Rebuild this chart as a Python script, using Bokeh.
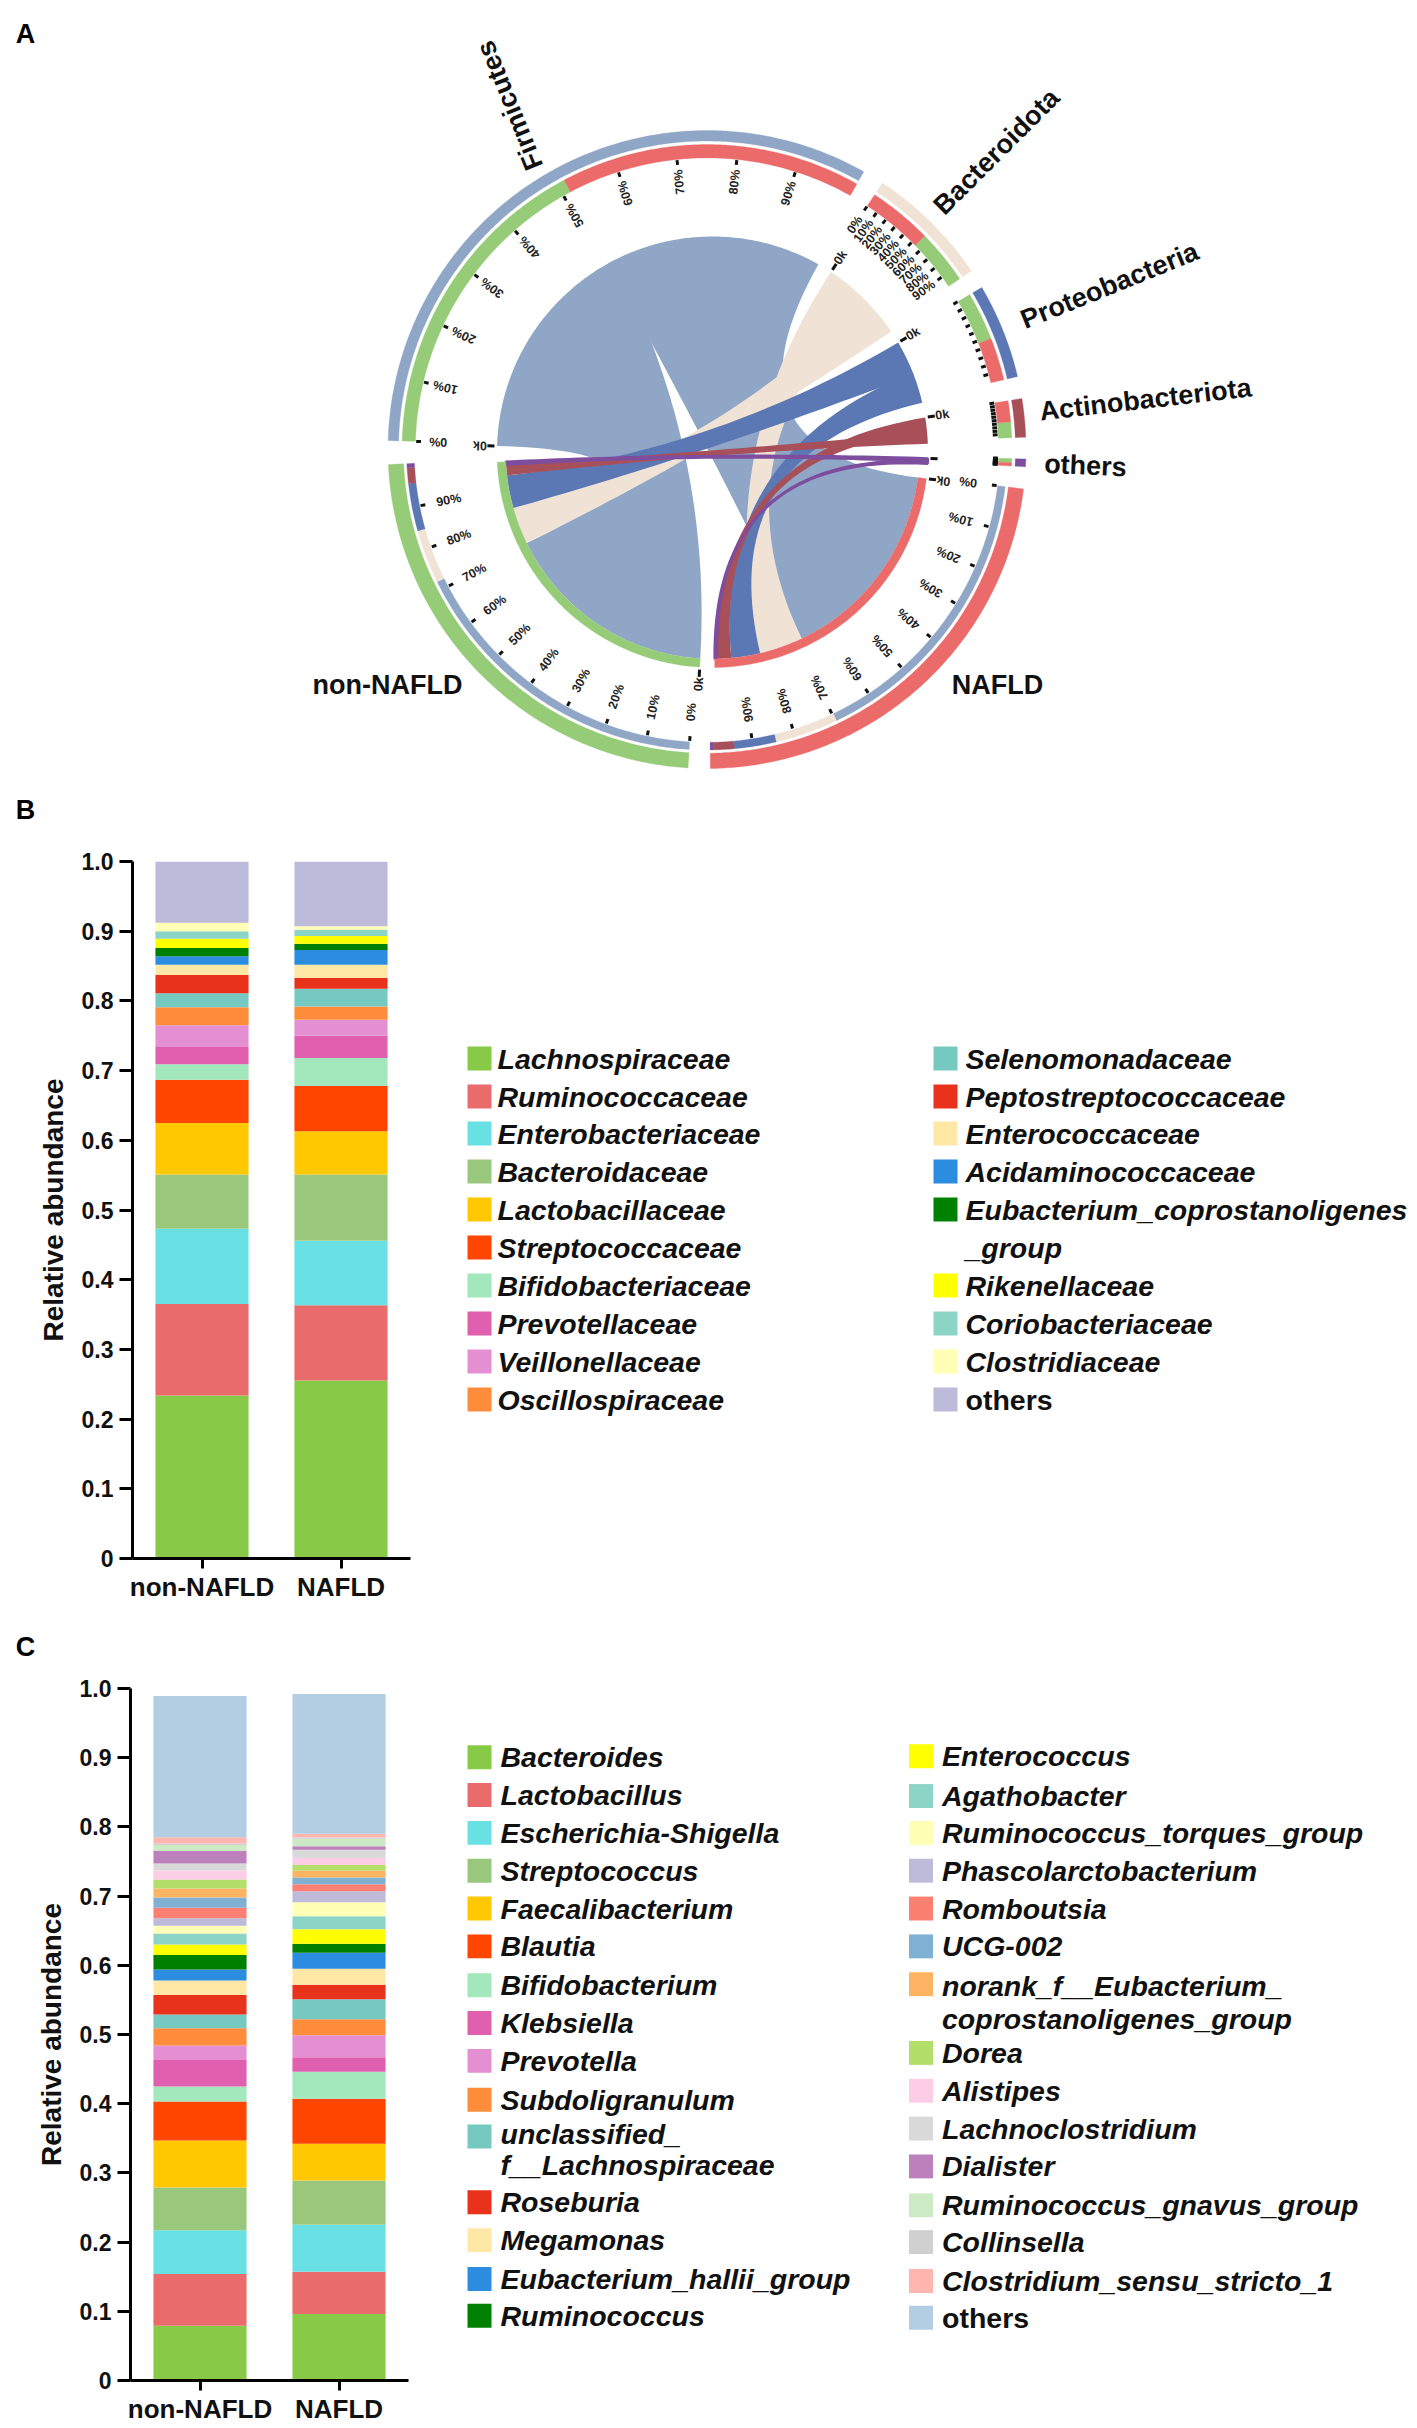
import math
from bokeh.plotting import figure
from bokeh.layouts import column, row
from bokeh.models import Range1d, FactorRange, FixedTicker, ColumnDataSource
from bokeh.core.properties import value
from bokeh.embed import file_html
from bokeh.resources import INLINE

FONT = "Liberation Sans"
PAGE_W = 1410

# ---------- panel A data ----------
phyla = ["Firmicutes", "Bacteroidota", "Proteobacteria", "Actinobacteriota", "others"]
groups = ["non-NAFLD", "NAFLD"]
flow_non_nafld = [60.4, 10.4, 9.2, 3.0, 0.8]
flow_nafld = [57.3, 12.2, 8.1, 4.0, 0.6]
phylum_colors = ["#8FA6C7", "#F0E3D6", "#5B78B4", "#A85059", "#7E4D9E"]
group_colors = ["#96CB78", "#EB6A6A"]
first_group = [0, 1, 0, 1, 0]
sector_gaps = [3.9, 3.5, 4.0, 3.9, 4.0, 4.0, 4.3]
percent_labels = ["0%", "10%", "20%", "30%", "40%", "50%", "60%", "70%", "80%", "90%"]

# ---------- panel B data ----------
family_names = ["Lachnospiraceae", "Ruminococcaceae", "Enterobacteriaceae", "Bacteroidaceae",
                "Lactobacillaceae", "Streptococcaceae", "Bifidobacteriaceae", "Prevotellaceae",
                "Veillonellaceae", "Oscillospiraceae", "Selenomonadaceae", "Peptostreptococcaceae",
                "Enterococcaceae", "Acidaminococcaceae", "Eubacterium_coprostanoligenes\n_group",
                "Rikenellaceae", "Coriobacteriaceae", "Clostridiaceae", "others"]
family_non = [.234, .131, .108, .078, .074, .062, .022, .025, .031, .026, .020, .026, .015, .012,
              .012, .013, .011, .012, .088]
family_naf = [.2555, .108, .0925, .095, .062, .065, .040, .032, .023, .019, .0255, .0155, .019, .021,
              .009, .011, .009, .005, .093]
family_colors = ["#88C947", "#E96B6B", "#68E0E4", "#99C87C", "#FFC800", "#FF4500", "#A2E8BC", "#E05FAE",
                 "#E58FD3", "#FF8C3A", "#76C9C0", "#E8321C", "#FFE8A6", "#2C8DE0", "#008000", "#FFFF00",
                 "#8CD4C5", "#FFFFB5", "#BEBADA"]

# ---------- panel C data ----------
genus_names = ["Bacteroides", "Lactobacillus", "Escherichia-Shigella", "Streptococcus", "Faecalibacterium",
               "Blautia", "Bifidobacterium", "Klebsiella", "Prevotella", "Subdoligranulum",
               "unclassified_\nf__Lachnospiraceae", "Roseburia", "Megamonas", "Eubacterium_hallii_group",
               "Ruminococcus", "Enterococcus", "Agathobacter", "Ruminococcus_torques_group",
               "Phascolarctobacterium", "Romboutsia", "UCG-002", "norank_f__Eubacterium_\ncoprostanoligenes_group",
               "Dorea", "Alistipes", "Lachnoclostridium", "Dialister", "Ruminococcus_gnavus_group",
               "Collinsella", "Clostridium_sensu_stricto_1", "others"]
genus_non = [.079, .075, .063, .062, .068, .056, .022, .038, .021, .025, .020, .028, .021, .016, .021,
             .015, .016, .011, .011, .015, .015, .013, .013, .013, .010, .018, .009, .002, .009, .204]
genus_naf = [.096, .061, .068, .064, .053, .065, .039, .021, .032, .023, .029, .021, .023, .023, .013,
             .021, .019, .020, .016, .010, .010, .010, .008, .010, .012, .005, .011, .002, .005, .202]
genus_colors = ["#88C947", "#E96B6B", "#68E0E4", "#99C87C", "#FFC800", "#FF4500", "#A2E8BC", "#E05FAE",
                "#E58FD3", "#FF8C3A", "#76C9C0", "#E8321C", "#FFE8A6", "#2C8DE0", "#008000", "#FFFF00",
                "#8CD4C5", "#FFFFB5", "#BEBADA", "#FB8072", "#80B1D3", "#FDB462", "#B3DE69", "#FCCDE5",
                "#D9D9D9", "#BC80BD", "#CCEBC5", "#D0D0D0", "#FFB6AE", "#B3CDE3"]
y_ticks = [0, .1, .2, .3, .4, .5, .6, .7, .8, .9, 1]
y_tick_labels = ["0", "0.1", "0.2", "0.3", "0.4", "0.5", "0.6", "0.7", "0.8", "0.9", "1.0"]


def blank(width, top, bottom, x0=0, x1=None):
    p = figure(width=width, height=bottom - top, output_backend="svg", toolbar_location=None,
               x_range=Range1d(x0, x1 if x1 is not None else x0 + width), y_range=Range1d(bottom, top), min_border=0)
    p.axis.visible = False
    p.grid.visible = False
    p.outline_line_color = None
    return p


def letter_strip(letter, top, bottom, y):
    p = blank(PAGE_W, top, bottom)
    p.text([25], [y], text=[letter], text_font=value(FONT), text_font_style="bold", text_font_size="27px",
           text_color="#000000", text_align="center", text_baseline="middle")
    return p


# ---------- panel A drawing ----------
A_BOTTOM = 780
pa = blank(PAGE_W, 0, A_BOTTOM)

OUT = (706.5, 449.0, 319.0)
INN = (712.0, 451.5, 215.5)


def pt(a, r, e):
    t = math.radians(a)
    return e[0] + e[2] * r * math.cos(t), e[1] - e[2] * r * math.sin(t)


def arc(a0, a1, r, e):
    n = max(2, int(abs(a1 - a0) * 2) + 2)
    return [pt(a0 + (a1 - a0) * i / (n - 1), r, e) for i in range(n)]


def band(a0, a1, r0, r1, e, color):
    pts = arc(a0, a1, r0, e) + arc(a1, a0, r1, e)
    pa.patch([q[0] for q in pts], [q[1] for q in pts], fill_color=color, line_color=color, line_width=0.3)


def bez(p, q, e):
    cx, cy = e[0], e[1]
    out = []
    for i in range(41):
        t = i / 40
        out.append(((1 - t) ** 2 * p[0] + 2 * t * (1 - t) * cx + t ** 2 * q[0],
                    (1 - t) ** 2 * p[1] + 2 * t * (1 - t) * cy + t ** 2 * q[1]))
    return out


flows = [flow_non_nafld, flow_nafld]
phylum_sizes = [flows[0][i] + flows[1][i] for i in range(5)]
group_sizes = [sum(flows[0]), sum(flows[1])]
k = (360 - sum(sector_gaps)) / (sum(phylum_sizes) + sum(group_sizes))

# sectors run clockwise: phyla, NAFLD, non-NAFLD
seq = [("p", i) for i in range(5)] + [("g", 1), ("g", 0)]
ang = 178.4
spans = {}
for n, s in enumerate(seq):
    size = phylum_sizes[s[1]] if s[0] == "p" else group_sizes[s[1]]
    spans[s] = (ang, ang - size * k)
    ang = ang - size * k - sector_gaps[n]

links = {}
for i in range(5):
    a = spans[("p", i)][0]
    for g in [first_group[i], 1 - first_group[i]]:
        links[(i, g)] = [a, a - flows[g][i] * k]
        a -= flows[g][i] * k
for g in range(2):
    b = spans[("g", g)][0]
    for i in range(5):
        links[(i, g)] += [b, b - flows[g][i] * k]
        b -= flows[g][i] * k

# ribbons: the two ribbons of a phylum overlap slightly where they leave their sector
CH_GROUP = 0.96
for i in range(5):
    ov = min(1.0, 0.017 * phylum_sizes[i] * k)
    for pos, g in enumerate([first_group[i], 1 - first_group[i]]):
        a0, a1, b0, b1 = links[(i, g)]
        a0 = a0 + ov if pos == 1 else a0
        a1 = a1 - ov if pos == 0 else a1
        pts = (arc(a0, a1, 1.0, INN) + bez(pt(a1, 1.0, INN), pt(b0, CH_GROUP, INN), INN) +
               arc(b0, b1, CH_GROUP, INN) + bez(pt(b1, CH_GROUP, INN), pt(a0, 1.0, INN), INN))
        thin = i == 4
        pa.patch([q[0] for q in pts], [q[1] for q in pts], fill_color=phylum_colors[i],
                 line_color=phylum_colors[i] if thin else None, line_width=2.5 if thin else 1)

# rings
for i in range(5):
    a0, a1 = spans[("p", i)]
    band(a0, a1, 1.0, 0.967, OUT, phylum_colors[i])
    for g in range(2):
        band(links[(i, g)][0], links[(i, g)][1], 0.956, 0.914, OUT, group_colors[g])
for g in range(2):
    a0, a1 = spans[("g", g)]
    band(a0, a1, 1.0, 0.952, OUT, group_colors[g])
    band(a0, a1, 1.0, CH_GROUP, INN, group_colors[g])
    for i in range(5):
        band(links[(i, g)][2], links[(i, g)][3], 0.942, 0.918, OUT, phylum_colors[i])

# ticks and scale labels
tick_x0, tick_x1, tick_y0, tick_y1 = [], [], [], []
lab_x, lab_y, lab_t, lab_ang = [], [], [], []


def facing(a):
    norm = (a + 180) % 360 - 180
    return math.radians(norm if norm >= 0 else norm + 180)


for s in seq:
    a0, a1 = spans[s]
    is_p = s[0] == "p"
    r_t = (0.912, 0.897) if is_p else (0.915, 0.900)
    r_l = 0.843 if is_p else 0.825
    labelled = (not is_p) or s[1] in (0, 1)
    for n in range(10):
        a = a0 + (a1 - a0) * n / 10
        p0, p1 = pt(a, r_t[0], OUT), pt(a, r_t[1], OUT)
        tick_x0.append(p0[0]); tick_y0.append(p0[1]); tick_x1.append(p1[0]); tick_y1.append(p1[1])
        if labelled:
            q = pt(a, r_l, OUT)
            lab_x.append(q[0]); lab_y.append(q[1]); lab_t.append(percent_labels[n]); lab_ang.append(facing(a))
    p0, p1 = pt(a0, 1.012, INN), pt(a0, 1.045, INN)
    tick_x0.append(p0[0]); tick_y0.append(p0[1]); tick_x1.append(p1[0]); tick_y1.append(p1[1])
    if s != ("p", 4):
        q = pt(a0, 1.08, INN)
        lab_x.append(q[0]); lab_y.append(q[1]); lab_t.append("0k"); lab_ang.append(facing(a0))

pa.segment(tick_x0, tick_y0, tick_x1, tick_y1, line_color="#111111", line_width=3)
pa.text(lab_x, lab_y, text=lab_t, angle=lab_ang, text_font=value(FONT), text_font_style="bold",
        text_font_size="12.5px", text_color="#222222", text_align="center", text_baseline="middle")

name_src = ColumnDataSource(dict(
    x=[509, 996, 1109, 1145, 1085, 997, 387],
    y=[105, 151, 285, 399, 465, 684, 684],
    t=phyla + ["NAFLD", "non-NAFLD"],
    a=[math.radians(v) for v in (112, 45, 22, 6.5, -2.5, 0, 0)]))
pa.text("x", "y", text="t", angle="a", source=name_src, text_font=value(FONT), text_font_style="bold",
        text_font_size="27px", text_color="#111111", text_align="center", text_baseline="middle")
pa.text([25], [33], text=["A"], text_font=value(FONT), text_font_style="bold", text_font_size="27px",
        text_color="#000000", text_align="center", text_baseline="middle")


# ---------- bar panels ----------
BAR_W = 440


def bar_panel(top, bottom, y1, y0, names, non, naf, colors, frame_left):
    src = dict(cat=groups)
    keys = []
    for i, nm in enumerate(names):
        key = "s%d" % i
        keys.append(key)
        src[key] = [non[i], naf[i]]
    p = figure(width=BAR_W, height=bottom - top, output_backend="svg", toolbar_location=None,
               x_range=FactorRange(factors=groups, range_padding=0, factor_padding=0),
               y_range=Range1d(0, 1), min_border_left=frame_left, min_border_right=BAR_W - frame_left - 278,
               min_border_top=y1 - top, min_border_bottom=bottom - y0)
    p.vbar_stack(keys, x="cat", width=0.67, color=colors, source=src, line_width=0)
    p.grid.visible = False
    p.outline_line_color = None
    p.yaxis.ticker = FixedTicker(ticks=y_ticks)
    p.yaxis.major_label_overrides = dict(zip(y_ticks, y_tick_labels))
    p.yaxis.minor_tick_line_color = None
    for ax in (p.xaxis[0], p.yaxis[0]):
        ax.axis_line_width = 3
        ax.axis_line_color = "#000000"
        ax.major_tick_line_width = 3
        ax.major_tick_line_color = "#000000"
        ax.major_tick_in = 0
        ax.major_label_text_font = FONT
        ax.major_label_text_font_style = "bold"
        ax.major_label_text_color = "#111111"
    p.yaxis.major_tick_out = 13
    p.xaxis.major_tick_out = 10
    p.yaxis.major_label_standoff = 6
    p.xaxis.major_label_standoff = 3
    p.yaxis.major_label_text_font_size = "23px"
    p.xaxis.major_label_text_font_size = "26px"
    p.yaxis.axis_label = "Relative abundance"
    p.yaxis.axis_label_text_font = FONT
    p.yaxis.axis_label_text_font_size = "28px"
    p.yaxis.axis_label_text_font_style = "bold"
    p.yaxis.axis_label_text_color = "#111111"
    p.yaxis.axis_label_standoff = 10
    return p


def legend_panel(top, bottom, y1, y0, rows, sx, tx, colors, names):
    # the row lines up the frames, so this frame spans the same pixel rows as the bars
    p = figure(width=PAGE_W - BAR_W, height=bottom - top, output_backend="svg", toolbar_location=None,
               x_range=Range1d(BAR_W, PAGE_W), y_range=Range1d(y0, y1), min_border=0,
               min_border_top=y1 - top, min_border_bottom=bottom - y0)
    p.axis.visible = False
    p.grid.visible = False
    p.outline_line_color = None
    for i, cname in enumerate(names):
        c, y, ly = rows[i]
        p.quad(left=[sx[c]], right=[sx[c] + 24], top=[y - 12], bottom=[y + 12], fill_color=colors[i], line_color=None)
        style = "bold" if cname == "others" else "bold italic"
        parts = cname.split("\n")
        p.text([tx[c]] * len(parts), ly, text=parts, text_font=value(FONT), text_font_style=style,
               text_font_size="28.5px", text_color="#111111", text_align="left", text_baseline="middle")
    return p


b_y = [1058, 1096, 1133, 1171, 1209, 1247, 1285, 1323, 1361, 1399]
b_rows = [(0, y, [y]) for y in b_y]
for r in [0, 1, 2, 3, 4, 6, 7, 8, 9]:
    b_rows.append((1, b_y[r], [b_y[4], b_y[5]] if r == 4 else [b_y[r]]))

c_rows = [(0, y, [y]) for y in (1757, 1795, 1833, 1871, 1909, 1947, 1986, 2024, 2062, 2101)]
c_rows.append((0, 2138, [2135, 2167]))
c_rows += [(0, y, [y]) for y in (2204, 2242, 2281, 2318)]
c_rows += [(1, y, [y]) for y in (1756, 1796, 1833, 1871, 1909, 1947)]
c_rows.append((1, 1985, [1987, 2020]))
c_rows += [(1, y, [y]) for y in (2054, 2092, 2130, 2168, 2207, 2244, 2283, 2320)]

B_STRIP, B_TOP, B_BOTTOM = A_BOTTOM, 830, 1620
C_STRIP, C_TOP, C_BOTTOM = 1620, 1662, 2426

sb = letter_strip("B", B_STRIP, B_TOP, 809)
pb = bar_panel(B_TOP, B_BOTTOM, 861, 1558, family_names, family_non, family_naf, family_colors, 132)
lb = legend_panel(B_TOP, B_BOTTOM, 861, 1558, b_rows, [467, 933], [497, 965], family_colors, family_names)
sc = letter_strip("C", C_STRIP, C_TOP, 1646)
pc = bar_panel(C_TOP, C_BOTTOM, 1688, 2383, genus_names, genus_non, genus_naf, genus_colors, 130)
lc = legend_panel(C_TOP, C_BOTTOM, 1688, 2383, c_rows, [467, 908.5], [500, 941.5], genus_colors, genus_names)

page = column(pa, sb, row(pb, lb), sc, row(pc, lc))
open("out.html", "w").write(file_html(page, INLINE))
